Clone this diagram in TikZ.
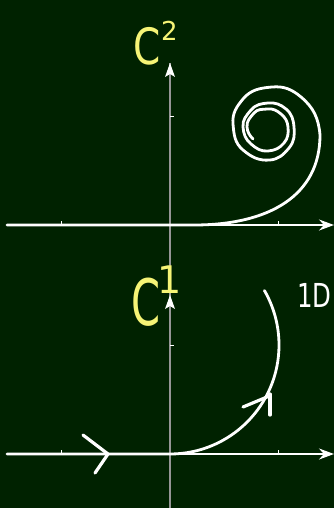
\documentclass[tikz,border=0pt]{standalone}
\usepackage{fontspec}
\setmainfont{DejaVu Sans}
\usetikzlibrary{arrows.meta}
\definecolor{board}{RGB}{0,34,0}
\definecolor{chalkyellow}{RGB}{246,244,118}
\definecolor{axisgray}{RGB}{150,150,150}
\tikzset{
  curve/.style={draw=white, line width=2.8pt, line cap=round, line join=round},
  xaxis/.style={draw=white, line width=1.3pt, -{Stealth[length=15pt,width=11pt]}},
  tickmark/.style={draw=white, line width=0.8pt},
  handtip/.style={draw=white, line width=3.2pt, line cap=round, line join=round},
  ylbl/.style={text=chalkyellow, inner sep=0pt, transform shape},
  wlbl/.style={text=white, inner sep=0pt, transform shape}
}
\begin{document}
\begin{tikzpicture}[x=1pt,y=-1pt]
\fill[board] (0,0) rectangle (334,508);
\useasboundingbox (0,0) rectangle (334,508);
% vertical axis (shared)
\coordinate (vbot) at (170,508);
\coordinate (vtop) at (170,63);
\coordinate (vmid) at (170,295);
\draw[axisgray, line width=1.8pt] (vbot) -- (vtop);
\fill[white] (vtop) -- ++(-5,14) -- ++(5,-3) -- ++(5,3) -- cycle;
\fill[white] (vmid) -- ++(-5,14) -- ++(5,-3) -- ++(5,3) -- cycle;
% ticks on vertical axis
\draw[tickmark] (170,116) -- (174,116);
\draw[tickmark] (170,345) -- (174,345);
% top x-axis
\coordinate (tl) at (7,225);
\coordinate (tr) at (334,225);
\draw[xaxis] (tl) -- (tr);
\draw[tickmark] (61,225) -- (61,221);
\draw[tickmark] (278,225) -- (278,221);
% bottom x-axis
\coordinate (bl) at (7,454);
\coordinate (br) at (334,454);
\draw[xaxis] (bl) -- (br);
\draw[tickmark] (61,454) -- (61,450);
\draw[tickmark] (278,454) -- (278,450);
% top spiral curve
\draw[curve] (7,225) -- (194,225) .. controls (270,225) and (320,195) .. (320,135)
  to[out=95,in=-40] (301,97)
  to[out=140,in=5] (272,87)
  to[out=185,in=50] (243,99)
  to[out=230,in=95] (233,124)
  to[out=275,in=140] (243,150)
  to[out=320,in=185] (270,160)
  to[out=5,in=230] (289,148)
  to[out=50,in=275] (294,127)
  to[out=95,in=320] (286,109)
  to[out=140,in=5] (268,103)
  to[out=185,in=50] (251,110)
  to[out=230,in=95] (243,127)
  to[out=275,in=140] (251,144)
  to[out=320,in=185] (268,151)
  to[out=5,in=230] (284,143)
  to[out=50,in=275] (288,127)
  to[out=95,in=320] (281,114)
  to[out=140,in=5] (268,109)
  to[out=185,in=50] (254,113)
  to[out=230,in=95] (247,127)
  to[out=275,in=134] (253,139);
% bottom curve
\draw[curve] (7,454) -- (170,454) arc[start angle=90, end angle=-30, radius=109];
% hand-drawn arrowheads
\draw[handtip] (83,435) -- (108,454) -- (95,473);
\draw[handtip] (243,407) -- (267,397);
\draw[handtip] (270,394) -- (270,415);
% labels
\node[ylbl, anchor=base west, font=\fontsize{50}{50}\selectfont, xscale=0.78] (c2) at (133,65) {C};
\node[ylbl, anchor=base west, font=\fontsize{26}{26}\selectfont] (s2) at (161,41) {2};
\node[ylbl, anchor=base west, font=\fontsize{64}{64}\selectfont, xscale=0.65] (c1) at (131,325) {C};
\node[ylbl, anchor=base, font=\fontsize{38}{38}\selectfont] (s1) at (170,293) {1};
\node[wlbl, anchor=base west, font=\fontsize{33}{33}\selectfont, xscale=0.74] (lab) at (297,307) {1D};
\end{tikzpicture}
\end{document}
